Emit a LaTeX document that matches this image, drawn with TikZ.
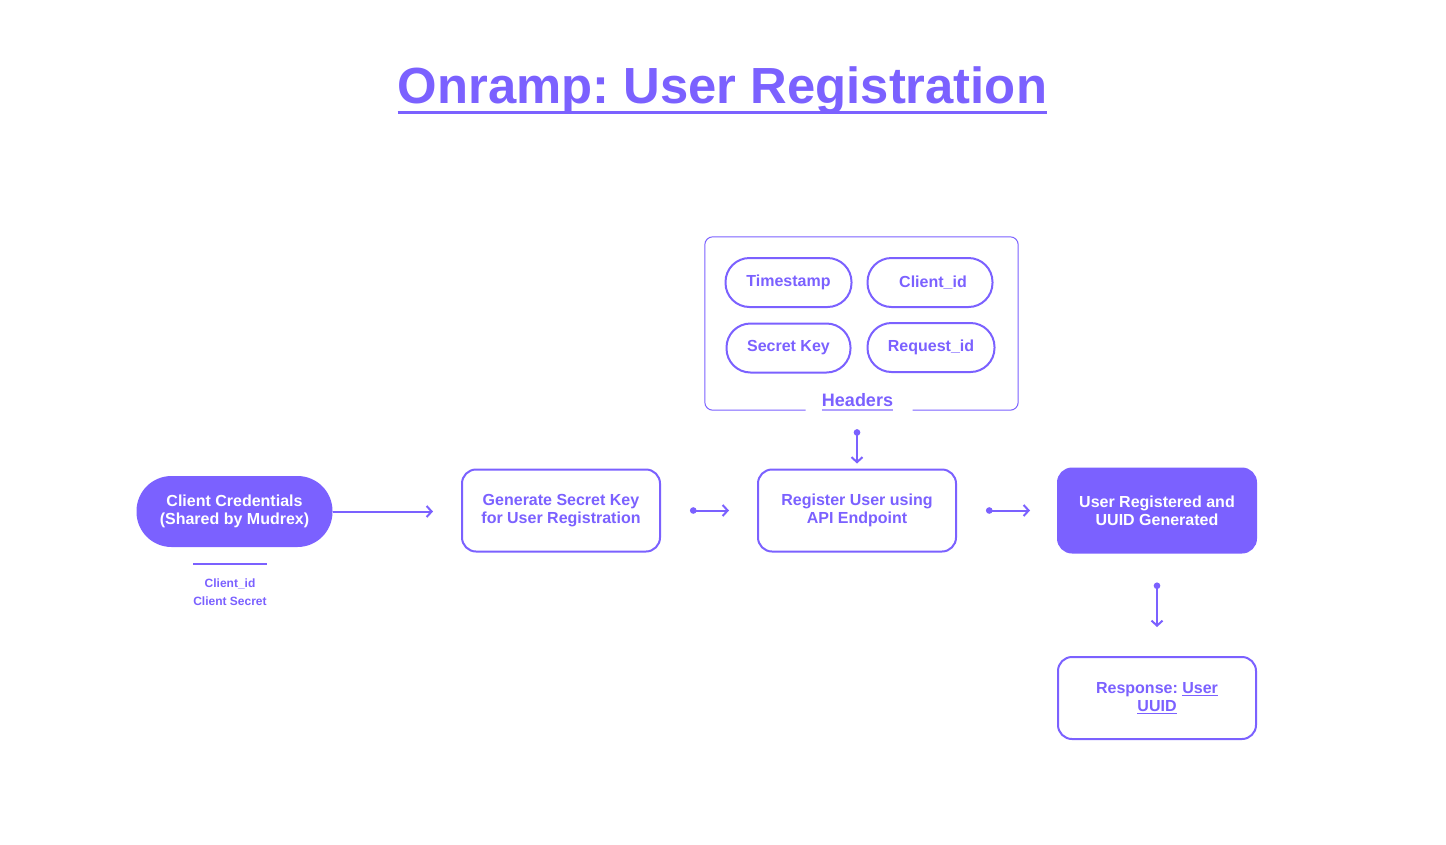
\documentclass[tikz,border=0pt]{standalone}
\usepackage{fontspec}
\setmainfont{Liberation Sans}
\usetikzlibrary{arrows.meta}
\definecolor{mudrex}{HTML}{7B61FF}
\frenchspacing

\begin{document}
\begin{tikzpicture}[x=1pt,y=-1pt]
\tikzset{box/.style={draw=mudrex, line width=2pt, rounded corners=14pt, minimum width=198pt, minimum height=82pt, align=center, text=mudrex, font=\bfseries\fontsize{16}{18}\selectfont}}
\tikzset{donebox/.style={box, fill=mudrex, text=white}}
\tikzset{pill/.style={draw=mudrex, line width=2pt, rounded corners=24pt, minimum height=49pt, text=mudrex, font=\bfseries\fontsize{16}{18}\selectfont}}
\tikzset{flow/.style={draw=mudrex, line width=2pt, -{Straight Barb[length=5pt,width=11pt]}}}
\tikzset{dotflow/.style={draw=mudrex, line width=2pt, {Circle[length=6.5pt,width=6.5pt]}-{Straight Barb[length=5pt,width=11pt]}}}
\fill[white] (0,0) rectangle (1446,844);
\useasboundingbox (0,0) rectangle (1446,844);

% title
\node[anchor=base, inner sep=0pt, text=mudrex, font=\bfseries\fontsize{50.8}{60}\selectfont] (title) at (722.5,103) {Onramp: User Registration};
\draw[mudrex, line width=3pt] ([yshift=-9pt]title.base west) -- ([yshift=-9pt]title.base east);

% credentials
\node[donebox, rounded corners=34pt, minimum width=194pt, minimum height=69pt] (creds) at (234.5,511.5) {Client Credentials\\(Shared by Mudrex)};
\node[anchor=north, inner sep=0pt, align=center, text=mudrex, font=\bfseries\fontsize{12}{18}\selectfont] (credinfo) at (230,579) {Client\_id\\Client Secret};
\draw[mudrex, line width=2pt] ([yshift=15pt]credinfo.north west) -- ([yshift=15pt]credinfo.north east);

% main flow
\node[box] (genkey) at (561,510.5) {Generate Secret Key\\for User Registration};
\node[box] (register) at (857,510.5) {Register User using\\API Endpoint};
\node[donebox, minimum height=84pt] (done) at (1157,510.5) {User Registered and\\UUID Generated};
\node[box] (resp) at (1157,698) {Response: \underline{User}\\\underline{UUID}};

% headers
\node[minimum width=313pt, minimum height=173pt, inner sep=0pt] (hdr) at (861.5,323.5) {};
\draw[mudrex, line width=1pt, rounded corners=8pt] ([xshift=-56pt]hdr.south) -- (hdr.south west) -- (hdr.north west) -- (hdr.north east) -- (hdr.south east) -- ([xshift=51pt]hdr.south);
\node[pill, minimum width=126pt] (stamp) at (788.5,282.5) {Timestamp};
\node[pill, minimum width=125pt] (cid) at (930,282.5) {\hspace{6pt}Client\_id};
\node[pill, minimum width=124pt] (skey) at (788.5,348) {Secret Key};
\node[pill, minimum width=127pt] (rid) at (931,347.5) {Request\_id};
\node[anchor=base, inner sep=0pt, text=mudrex, font=\bfseries\fontsize{18}{20}\selectfont] (hdrlab) at (857.5,406) {Headers};
\draw[mudrex!60, line width=1.5pt] ([yshift=-4pt]hdrlab.base west) -- ([yshift=-4pt]hdrlab.base east);

% connectors
\draw[flow] (creds.east) -- ([xshift=-28pt]genkey.west |- creds.east);
\draw[dotflow] ([xshift=29pt]genkey.east) -- ([xshift=-28pt]register.west);
\draw[dotflow] ([xshift=29pt]register.east) -- ([xshift=-27pt]done.west);
\draw[dotflow] ([yshift=-19pt]hdr.south -| register.north) -- ([yshift=5pt]register.north);
\draw[dotflow] ([yshift=-29pt]done.south) -- ([yshift=29pt]resp.north);
\end{tikzpicture}
\end{document}
